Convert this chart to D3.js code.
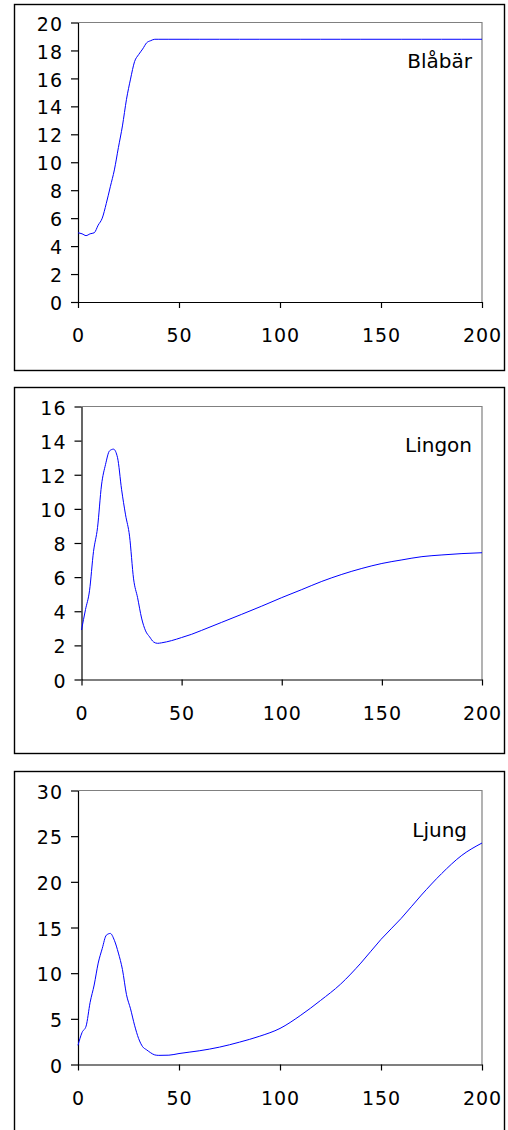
<!DOCTYPE html>
<html>
<head>
<meta charset="utf-8">
<script src="https://cdn.jsdelivr.net/npm/d3@7"></script>
<style>
body { margin: 0; background: #fff; }
text { font-family: "DejaVu Sans", Verdana, sans-serif; fill: #000; }
</style>
</head>
<body>
<svg width="508" height="1130"></svg>
<script>
// time axis, shared by the three curves
var days = [0, 2, 4, 6, 8, 10, 12, 14, 16, 18, 20, 22, 24, 26, 28, 30, 32, 34, 36, 38,
            40, 45, 50, 55, 60, 70, 80, 90, 100, 110, 120, 130, 140, 150, 160, 170, 180, 190, 200];

var blabar = [4.95, 4.88, 4.75, 4.88, 4.95, 5.5, 6.0, 7.05, 8.25, 9.45, 11.05, 12.6, 14.5, 15.95, 17.2, 17.7, 18.1, 18.55, 18.7, 18.8,
              18.8, 18.8, 18.8, 18.8, 18.8, 18.8, 18.8, 18.8, 18.8, 18.8, 18.8, 18.8, 18.8, 18.8, 18.8, 18.8, 18.8, 18.8, 18.8];

var lingon = [2.9, 4.1, 5.2, 7.5, 8.9, 11.4, 12.6, 13.4, 13.5, 13.0, 11.15, 9.65, 8.4, 5.9, 4.8, 3.6, 2.85, 2.5, 2.2, 2.12,
              2.15, 2.28, 2.46, 2.65, 2.88, 3.35, 3.82, 4.3, 4.8, 5.27, 5.75, 6.16, 6.51, 6.8, 7.01, 7.2, 7.3, 7.38, 7.43];

var ljung = [2.1, 3.5, 4.2, 6.8, 8.7, 11.1, 12.7, 14.15, 14.35, 13.6, 12.2, 10.4, 7.65, 6.1, 4.3, 2.85, 1.95, 1.6, 1.28, 1.05,
             1.0, 1.02, 1.2, 1.35, 1.5, 1.9, 2.45, 3.1, 3.95, 5.35, 7.0, 8.8, 11.1, 13.7, 16.0, 18.55, 20.9, 22.9, 24.25];

var names = ["Blåbär", "Lingon", "Ljung"];
var yMax = [20, 16, 30];
var yStep = [2, 2, 5];
var xTicks = [0, 50, 100, 150, 200];

// box / plot placement for each panel
var panels = [
    { values: blabar, frameY: 4.5,   l: 78,   t: 22.5,  r: 482, b: 302,    labelX: 472, labelY: 68 },
    { values: lingon, frameY: 387.5, l: 81.5, t: 406.5, r: 482, b: 679.5,  labelX: 472, labelY: 452 },
    { values: ljung,  frameY: 771.5, l: 78,   t: 790.5, r: 482, b: 1064.5, labelX: 467, labelY: 837 }
];

var svg = d3.select("svg");

panels.forEach(function(p, i) {
    var g = svg.append("g");

    // outer box
    g.append("rect")
        .attr("x", 14.5)
        .attr("y", p.frameY)
        .attr("width", 490)
        .attr("height", 366)
        .attr("fill", "none")
        .attr("stroke", "#000")
        .attr("stroke-width", 1.4);

    var x = d3.scaleLinear().domain([0, 200]).range([p.l, p.r]);
    var y = d3.scaleLinear().domain([0, yMax[i]]).range([p.b, p.t]);

    // grey top and right edge of the plot area
    g.append("path")
        .attr("d", "M" + p.l + "," + p.t + "H" + p.r + "V" + p.b)
        .attr("fill", "none")
        .attr("stroke", "#808080")
        .attr("stroke-width", 1.2);

    var yAxis = g.append("g")
        .attr("transform", "translate(" + p.l + ",0)")
        .call(d3.axisLeft(y)
            .tickValues(d3.range(0, yMax[i] + 0.1, yStep[i]))
            .tickSize(7)
            .tickSizeOuter(0)
            .tickPadding(8));

    var xAxis = g.append("g")
        .attr("transform", "translate(0," + p.b + ")")
        .call(d3.axisBottom(x)
            .tickValues(xTicks)
            .tickSize(6)
            .tickSizeOuter(0));

    [yAxis, xAxis].forEach(function(ax) {
        ax.selectAll("path, line").attr("stroke", "#000").attr("stroke-width", 1.2);
        ax.selectAll("text")
            .attr("fill", "#000")
            .style("font-size", "19px")
            .style("letter-spacing", "1px");
    });
    yAxis.selectAll("text").attr("dy", "0.4em");
    xAxis.selectAll("text").attr("dy", null).attr("y", 40);

    var line = d3.line()
        .curve(d3.curveMonotoneX)
        .x(function(d, k) { return x(days[k]); })
        .y(function(d) { return y(d); });

    g.append("path")
        .datum(p.values)
        .attr("d", line)
        .attr("fill", "none")
        .attr("stroke", "#0000ff")
        .attr("stroke-width", 1);

    g.append("text")
        .attr("x", p.labelX)
        .attr("y", p.labelY)
        .attr("text-anchor", "end")
        .style("font-size", "20px")
        .text(names[i]);
});
</script>
</body>
</html>
